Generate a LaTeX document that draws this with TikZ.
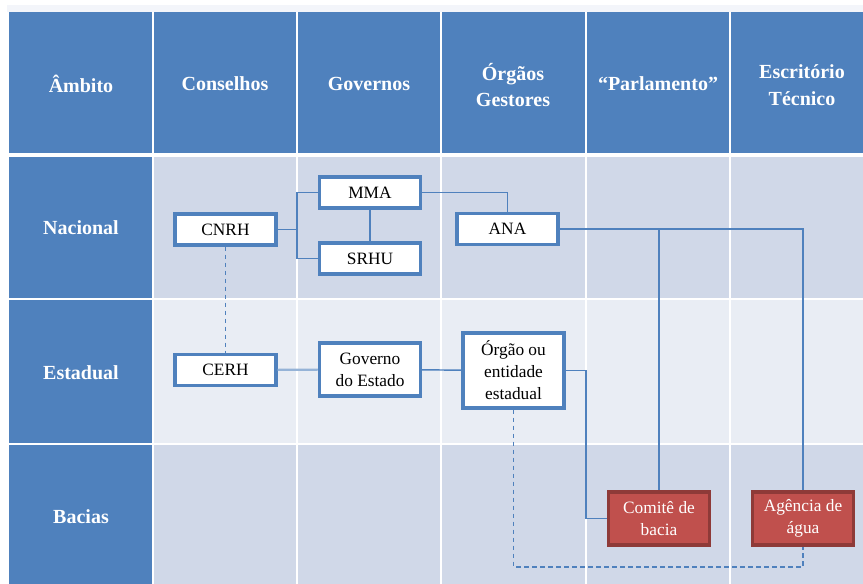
\documentclass[tikz,border=0pt]{standalone}
\usepackage{fontspec}
\setmainfont{Liberation Serif}
\definecolor{hdrblue}{HTML}{4F81BD}
\definecolor{rowdark}{HTML}{D0D8E8}
\definecolor{rowlight}{HTML}{E9EDF4}
\definecolor{topstrip}{HTML}{F3F5FA}
\definecolor{redfill}{HTML}{C0504D}
\definecolor{redline}{HTML}{8E3A38}
\definecolor{paleblue}{HTML}{95B3D7}
\tikzset{
  hdr/.style={text=white, font=\bfseries\fontsize{15}{20}\selectfont, align=center},
  orgbox/.style={draw=hdrblue, fill=white, line width=2.3pt, align=center,
    font=\fontsize{13}{16.5}\selectfont, inner sep=0pt, minimum width=75.75pt},
  basinbox/.style={orgbox, draw=redline, fill=redfill, text=white},
  link/.style={hdrblue, line width=1.1pt},
  dashlink/.style={link, dash pattern=on 3.5pt off 2.5pt}
}
\begin{document}
\begin{tikzpicture}[x=0.75pt, y=-0.75pt]
            \useasboundingbox (0,0) rectangle (863,584);
            \fill[white] (0,0) rectangle (863,584);
            \fill[topstrip] (7,5) rectangle (880,12);
            % table
            \fill[hdrblue] (9,12) rectangle (880,153);
            \fill[rowdark] (9,157) rectangle (880,299);
            \fill[rowlight] (9,299) rectangle (880,444);
            \fill[rowdark] (9,444) rectangle (880,590);
            \fill[hdrblue] (9,157) rectangle (153,590);
            \draw[white, line width=1.2pt] (153,12) -- (153,590);
            \draw[white, line width=1.2pt] (297,12) -- (297,590);
            \draw[white, line width=1.2pt] (441,12) -- (441,590);
            \draw[white, line width=1.2pt] (586,12) -- (586,590);
            \draw[white, line width=1.2pt] (730,12) -- (730,590);
            \draw[white, line width=1.2pt] (9,299) -- (880,299);
            \draw[white, line width=1.2pt] (9,444) -- (880,444);
            % headings
            \node[hdr] (hambito) at (81,84) {Âmbito};
            \node[hdr] (hconselhos) at (225,84) {Conselhos};
            \node[hdr] (hgovernos) at (369,84) {Governos};
            \node[hdr] (horgaos) at (513,85) {Órgãos\\Gestores};
            \node[hdr] (hparlamento) at (658,84) {“Parlamento”};
            \node[hdr] (hescritorio) at (802,85) {Escritório\\Técnico};
            \node[hdr] (nacional) at (81,228) {Nacional};
            \node[hdr] (estadual) at (81,373) {Estadual};
            \node[hdr] (bacias) at (81,517) {Bacias};
            % boxes
            \node[orgbox, minimum height=23.25pt] (cnrh) at (225.5,229.5) {CNRH};
            \node[orgbox, minimum height=23.25pt] (mma) at (370,192.5) {MMA};
            \node[orgbox, minimum height=23.25pt] (srhu) at (370,258.5) {SRHU};
            \node[orgbox, minimum height=23.25pt] (ana) at (507.5,229) {ANA};
            \node[orgbox, minimum height=23.25pt] (cerh) at (225.5,370) {CERH};
            \node[orgbox, minimum height=39.75pt] (governo) at (370,369.5) {Governo\\do Estado};
            \node[orgbox, minimum height=56.25pt] (orgao) at (513.5,370.5) {Órgão ou\\entidade\\estadual};
            \node[basinbox, minimum height=39.75pt] (comite) at (659,518.5) {Comitê de\\bacia};
            \node[basinbox, minimum height=39.75pt] (agencia) at (803,518.5) {Agência de\\água};
            % connectors
            \coordinate (govfork) at (297,229.5);
            \coordinate (estfork) at (586,370.5);
            \coordinate (dashturn) at (513.5,567);
            \draw[link] (cnrh) -- (govfork);
            \draw[link] (mma.west) -| (govfork);
            \draw[link] (srhu.west) -| (govfork);
            \draw[link] (mma) -- (srhu);
            \draw[link] (mma.east) -| (ana.north);
            \draw[link] (ana.east) -| (comite.north);
            \draw[link] (ana.east) -| (agencia.north);
            \draw[dashlink] (cnrh) -- (cerh);
            \draw[paleblue, line width=1.6pt] (cerh) -- (governo);
            \draw[link] (governo) -- (orgao);
            \draw[link] (orgao.east) -- (estfork) |- (comite.west);
            \draw[dashlink] (orgao.south) -- (dashturn) -| (agencia.south);
        \end{tikzpicture}
\end{document}
